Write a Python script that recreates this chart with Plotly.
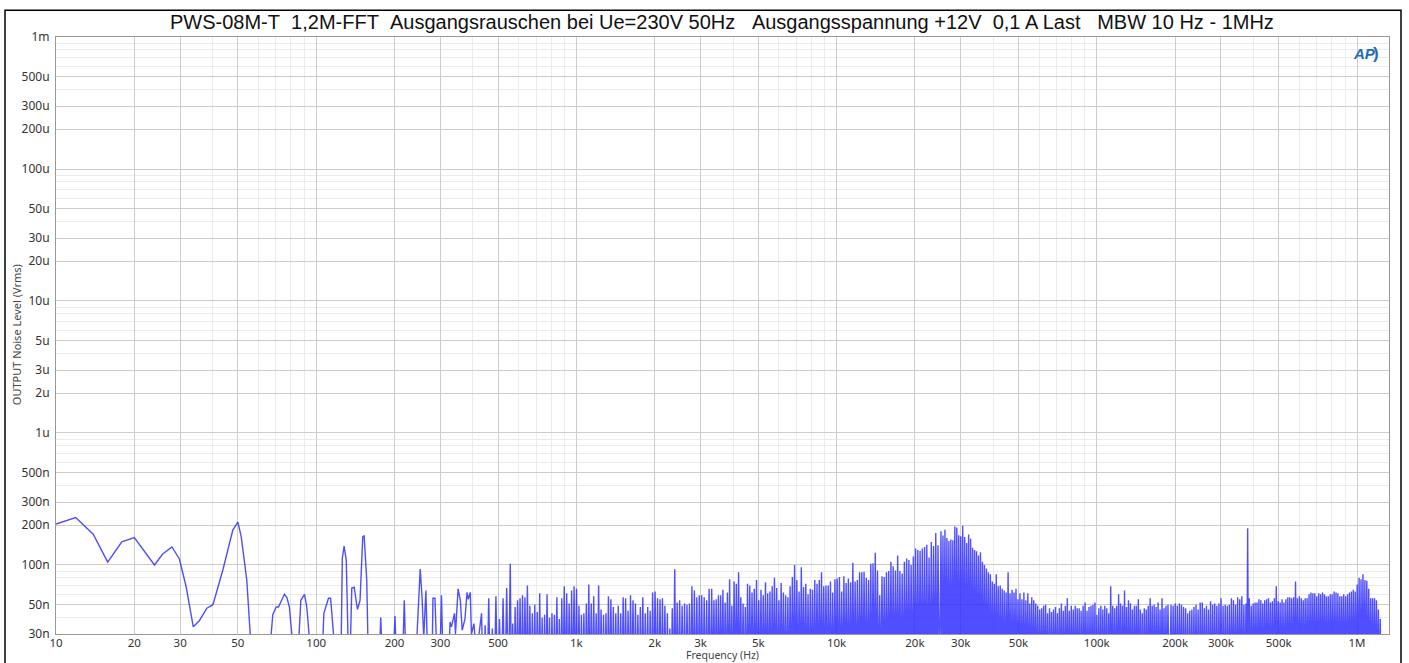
import numpy as np
import plotly.graph_objects as go

# ---------------- data ----------------
TITLE = ("PWS-08M-T\u00a0\u00a01,2M-FFT\u00a0\u00a0Ausgangsrauschen bei Ue=230V 50Hz\u00a0\u00a0\u00a0"
         "Ausgangsspannung +12V\u00a0\u00a00,1 A Last\u00a0\u00a0\u00a0MBW 10 Hz - 1MHz")

# low-frequency part: individual points (Hz, nV rms); 20 nV = below the visible range
lf_freq_hz = [10, 11.9, 13.9, 15.8, 17.9, 20, 23.9, 25.7, 27.9, 29.8, 31.6, 33.7, 35.6, 38, 40.1,
              43.8, 47.8, 50, 51.5, 54.1, 56.5,
              66, 68.1, 70.2, 71.6, 75.5, 77.1, 78.9, 82,
              85, 87.3, 90.2, 92, 95.5,
              105.5, 107, 111.5, 113.6, 118.5,
              124.5, 126, 128, 130.5, 133,
              135, 137, 140, 144, 147.4, 151, 152.8, 156.4, 158.5,
              175, 177, 179.5,
              198, 200.8, 203,
              215, 218, 221,
              241.7, 251, 255, 259, 264, 268,
              279, 281, 286, 291,
              299, 303, 307,
              323, 327, 331, 340, 343, 351, 358, 364, 373, 380, 384, 391, 395, 404, 412]
lf_level_nv = [204, 229, 171, 105, 150, 161, 100, 121, 137, 111, 69, 34, 38, 47, 50,
               92, 184, 211, 164, 77, 20,
               20, 42, 48, 48, 60, 57, 48, 20,
               20, 54, 60, 48, 20,
               20, 43, 56, 56, 20,
               20, 112, 139, 109, 20,
               20, 67, 68, 46, 54, 164, 166, 77, 20,
               20, 40, 20,
               20, 41, 20,
               20, 54, 20,
               20, 93, 58, 28, 64, 20,
               20, 56, 56, 20,
               20, 59, 20,
               20, 37, 34, 43, 30, 66, 54, 32, 39, 62, 55, 62, 30, 36, 20]

# dense FFT part: peak heights (nV) of the spectral lines, band by band
band1_span_hz = [432, 557]
band1_peaks_nv = [43, 35, 56, 33, 58, 39, 56, 67, 102]

band2_span_hz = [569, 3236]
band2_peaks_nv = [36, 48, 54, 56, 59, 57, 70, 49, 43, 50, 44, 61, 40, 42, 60, 40, 43, 42, 57, 39,
                  56, 69, 61, 51, 64, 69, 66, 49, 42, 43, 51, 71, 51, 58, 43, 70, 46, 42, 43, 58,
                  55, 48, 43, 49, 43, 57, 56, 45, 59, 54, 51, 42, 48, 57, 43, 48, 45, 62, 63, 56,
                  55, 56, 49, 43, 33, 47, 93, 52, 54, 49, 51, 50, 51, 69, 64, 57, 59, 59, 57, 54, 66]

band3_span_hz = [3311, 24530]
band3_peaks_nv = [66, 54, 55, 59, 59, 65, 52, 62, 78, 49, 75, 72, 88, 57, 51, 48, 72, 70, 62, 66,
                  77, 54, 65, 59, 74, 61, 63, 69, 80, 67, 54, 73, 62, 59, 57, 69, 81, 100, 77, 63,
                  96, 68, 72, 60, 66, 65, 77, 72, 77, 88, 69, 70, 70, 75, 62, 78, 79, 81, 63, 82,
                  73, 79, 74, 104, 75, 77, 88, 88, 89, 80, 77, 102, 103, 124, 91, 59, 82, 81, 88, 90,
                  106, 98, 91, 118, 90, 86, 106, 112, 109, 100, 116, 133, 130, 128, 133, 137, 142, 114,
                  149, 139, 175, 141]

band4_span_hz = [25190, 187700]
band4_peaks_nv = [180, 167, 185, 160, 152, 156, 154, 196, 192, 168, 165, 198, 163, 147, 170, 158,
                  135, 130, 127, 118, 125, 106, 100, 94, 88, 85, 75, 72, 85, 69, 70, 66, 64, 62, 88,
                  61, 65, 62, 66, 55, 61, 55, 62, 54, 61, 51, 57, 54, 51, 49, 46, 47, 49, 50, 43, 47,
                  44, 46, 48, 43, 47, 51, 45, 49, 56, 45, 49, 46, 49, 47, 47, 45, 49, 52, 45, 48, 49,
                  50, 52, 42, 47, 49, 46, 49, 47, 43, 69, 49, 47, 49, 60, 51, 49, 64, 48, 54, 51, 46,
                  49, 49, 55, 46, 43, 47, 46, 49, 56, 49, 50, 48, 52, 46, 56, 47, 49, 50]

band5_span_hz = [192900, 374400]
band5_peaks_nv = [50, 49, 51, 49, 51, 50, 48, 47, 43, 45, 46, 48, 50, 46, 52, 52, 47, 49, 46, 53,
                  50, 51, 49, 51, 56, 49, 50, 49, 50, 56, 54, 50, 57, 55, 58, 50, 51]

spur_span_hz = [380000, 380000]
spur_peaks_nv = [190]

band6_span_hz = [385500, 1229000]
band6_peaks_nv = [56, 49, 51, 52, 52, 55, 54, 51, 54, 55, 56, 52, 53, 56, 69, 53, 52, 55, 52, 55,
                  57, 57, 56, 57, 75, 56, 58, 56, 54, 56, 56, 60, 62, 61, 61, 58, 61, 60, 62, 60,
                  58, 58, 60, 60, 63, 62, 61, 58, 58, 60, 58, 60, 62, 63, 65, 63, 71, 80, 78, 85,
                  77, 76, 66, 56, 56, 56, 54, 46, 39]

NULL_NV = 10  # level between spectral lines (below the displayed range)

x_tick_vals = [10, 20, 30, 50, 100, 200, 300, 500, 1e3, 2e3, 3e3, 5e3, 1e4, 2e4, 3e4, 5e4,
               1e5, 2e5, 3e5, 5e5, 1e6]
x_tick_text = ["10", "20", "30", "50", "100", "200", "300", "500", "1k", "2k", "3k", "5k", "10k",
               "20k", "30k", "50k", "100k", "200k", "300k", "500k", "1M"]
y_tick_vals = [1e-3, 5e-4, 3e-4, 2e-4, 1e-4, 5e-5, 3e-5, 2e-5, 1e-5, 5e-6, 3e-6, 2e-6, 1e-6,
               5e-7, 3e-7, 2e-7, 1e-7, 5e-8, 3e-8]
y_tick_text = ["1m", "500u", "300u", "200u", "100u", "50u", "30u", "20u", "10u", "5u", "3u", "2u",
               "1u", "500n", "300n", "200n", "100n", "50n", "30n"]
minor_mult = [4, 6, 7, 8, 9]

# ---------------- build the trace ----------------
xs = list(lf_freq_hz)
ys = [v * 1e-9 for v in lf_level_nv]

line_f, line_v = [], []
for span, peaks in [(band1_span_hz, band1_peaks_nv), (band2_span_hz, band2_peaks_nv),
                    (band3_span_hz, band3_peaks_nv), (band4_span_hz, band4_peaks_nv),
                    (band5_span_hz, band5_peaks_nv), (spur_span_hz, spur_peaks_nv),
                    (band6_span_hz, band6_peaks_nv)]:
    line_f.extend(np.geomspace(span[0], span[1], len(peaks)).tolist())
    line_v.extend(peaks)

for i, (fi, pv) in enumerate(zip(line_f, line_v)):
    if i > 0:
        xs.append(float(np.sqrt(line_f[i - 1] * fi)))
        ys.append(NULL_NV * 1e-9)
    xs.append(float(fi))
    ys.append(pv * 1e-9)
xs.append(line_f[-1] * 1.004)
ys.append(NULL_NV * 1e-9)

x_minor = [m * 10 ** d for d in range(1, 7) for m in minor_mult]
y_minor = [m * 10.0 ** d for d in range(-8, -3) for m in minor_mult]

fig = go.Figure()
fig.add_trace(go.Scatter(x=xs, y=ys, mode="lines",
                         line=dict(color="rgba(40,40,255,0.82)", width=1.4),
                         hoverinfo="skip", showlegend=False))

L, R, T, B = 56, 1389, 36.7, 634
W, H = 1409, 663
pw, ph = R - L, B - T


def px(xp):
    return (xp - L) / pw


def py(yp):
    return (B - yp) / ph


tick_font = dict(family="Noto Sans, Liberation Sans, sans-serif", size=12, color="#333333")
xtick_font = dict(family="Noto Sans, Liberation Sans, sans-serif", size=11.5, color="#333333")

fig.update_layout(
    width=W, height=H,
    margin=dict(l=L, r=W - R, t=T, b=H - B, pad=0),
    paper_bgcolor="white", plot_bgcolor="white",
    showlegend=False,
    xaxis=dict(type="log", range=[1, 1 + (R - L) / 260.2], tickmode="array",
               tickvals=x_tick_vals, ticktext=x_tick_text, ticks="", tickfont=xtick_font,
               ticklabelstandoff=-2,
               showgrid=True, gridcolor="#cdcdcd", gridwidth=1, zeroline=False,
               showline=True, linecolor="#999999", linewidth=1, mirror=True,
               minor=dict(tickmode="array", tickvals=x_minor, showgrid=True,
                          gridcolor="#ebebeb", gridwidth=1, ticks=""),
               automargin=False, fixedrange=True),
    yaxis=dict(type="log", range=[np.log10(3e-8), -3], tickmode="array",
               tickvals=y_tick_vals, ticktext=y_tick_text, ticks="", tickfont=tick_font,
               ticklabelstandoff=3,
               showgrid=True, gridcolor="#cdcdcd", gridwidth=1, zeroline=False,
               showline=True, linecolor="#999999", linewidth=1, mirror=True,
               minor=dict(tickmode="array", tickvals=y_minor, showgrid=True,
                          gridcolor="#ebebeb", gridwidth=1, ticks=""),
               automargin=False, fixedrange=True),
)

fig.add_annotation(text=TITLE, xref="paper", yref="paper", x=px(722), y=py(22),
                   xanchor="center", yanchor="middle", showarrow=False,
                   font=dict(family="Liberation Sans, Arial, sans-serif", size=20, color="#111111"))
fig.add_annotation(text="Frequency (Hz)", xref="paper", yref="paper", x=px(722), y=py(655.5),
                   xanchor="center", yanchor="middle", showarrow=False,
                   font=dict(family="Noto Sans, Liberation Sans, sans-serif", size=10.5, color="#444444"))
fig.add_annotation(text="OUTPUT Noise Level (Vrms)", xref="paper", yref="paper", x=px(16), y=py(335),
                   xanchor="center", yanchor="middle", showarrow=False, textangle=-90,
                   font=dict(family="Noto Sans, Liberation Sans, sans-serif", size=11, color="#444444"))
fig.add_annotation(text="<b><i>AP</i></b>", xref="paper", yref="paper", x=px(1364), y=py(53),
                   xanchor="center", yanchor="middle", showarrow=False,
                   font=dict(family="Liberation Sans, Arial, sans-serif", size=15, color="#1f6db5"))
fig.add_annotation(text="<b>)</b>", xref="paper", yref="paper", x=px(1376), y=py(53),
                   xanchor="center", yanchor="middle", showarrow=False,
                   font=dict(family="Liberation Sans, Arial, sans-serif", size=17, color="#1f6db5"))
# outer frame of the picture
fig.add_shape(type="rect", xref="paper", yref="paper", x0=px(5), x1=px(1401), y0=py(668), y1=py(10),
              line=dict(color="black", width=1.5), fillcolor="rgba(0,0,0,0)", layer="above")

fig.write_html("out.html", config={"displayModeBar": False},
               post_script="document.body.style.margin='0';")
